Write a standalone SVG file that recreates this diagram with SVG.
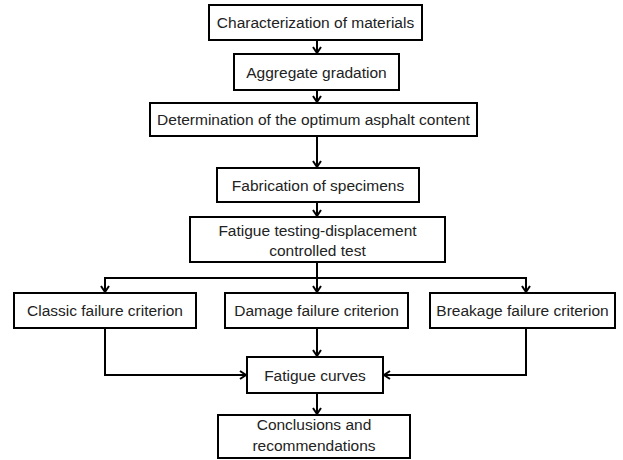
<svg xmlns="http://www.w3.org/2000/svg" width="623" height="460" viewBox="0 0 623 460">
<style>
.box{fill:#fff;stroke:#000;stroke-width:2}
.t{font-family:"Liberation Sans",Arial,sans-serif;font-size:15.5px;fill:#222;text-anchor:middle}
.c{fill:none;stroke:#000;stroke-width:2}
</style>
<defs>
<marker id="ah" markerWidth="10" markerHeight="10" refX="8" refY="5" orient="auto" markerUnits="userSpaceOnUse">
<path d="M2,1 L8,5 L2,9" fill="none" stroke="#000" stroke-width="2"/>
</marker>
</defs>
<rect width="623" height="460" fill="#fff"/>
<g id="connectors">
<path class="c" d="M317,40 V53" marker-end="url(#ah)"/>
<path class="c" d="M317,90 V102" marker-end="url(#ah)"/>
<path class="c" d="M317,136 V167" marker-end="url(#ah)"/>
<path class="c" d="M317,202 V216" marker-end="url(#ah)"/>
<path class="c" d="M317,262 V292" marker-end="url(#ah)"/>
<path class="c" d="M105,292 V278 H526 V292" marker-end="url(#ah)"/>
<path class="c" d="M105,278 V292" marker-end="url(#ah)"/>
<path class="c" d="M105,328 V375 H246" marker-end="url(#ah)"/>
<path class="c" d="M317,328 V356" marker-end="url(#ah)"/>
<path class="c" d="M526,328 V375 H384" marker-end="url(#ah)"/>
<path class="c" d="M317,393 V414" marker-end="url(#ah)"/>
</g>
<g id="n1"><rect class="box" x="209" y="5" width="213" height="35"/><text class="t" x="315.5" y="28">Characterization of materials</text></g>
<g id="n2"><rect class="box" x="234" y="54" width="165" height="36"/><text class="t" x="316.5" y="78">Aggregate gradation</text></g>
<g id="n3"><rect class="box" x="150" y="103" width="327" height="33"/><text class="t" x="313.5" y="125">Determination of the optimum asphalt content</text></g>
<g id="n4"><rect class="box" x="217" y="168" width="202" height="34"/><text class="t" x="318" y="191">Fabrication of specimens</text></g>
<g id="n5"><rect class="box" x="190" y="217" width="255" height="45"/><text class="t" x="317.5" y="236">Fatigue testing-displacement</text><text class="t" x="317.5" y="256">controlled test</text></g>
<g id="n6"><rect class="box" x="14" y="293" width="182" height="35"/><text class="t" x="105" y="316">Classic failure criterion</text></g>
<g id="n7"><rect class="box" x="225" y="293" width="183" height="35"/><text class="t" x="316.5" y="316">Damage failure criterion</text></g>
<g id="n8"><rect class="box" x="430" y="293" width="185" height="35"/><text class="t" x="522.5" y="316">Breakage failure criterion</text></g>
<g id="n9"><rect class="box" x="247" y="357" width="136" height="36"/><text class="t" x="315" y="381">Fatigue curves</text></g>
<g id="n10"><rect class="box" x="218" y="415" width="192" height="43"/><text class="t" x="314" y="430">Conclusions and</text><text class="t" x="314" y="451">recommendations</text></g>
</svg>
